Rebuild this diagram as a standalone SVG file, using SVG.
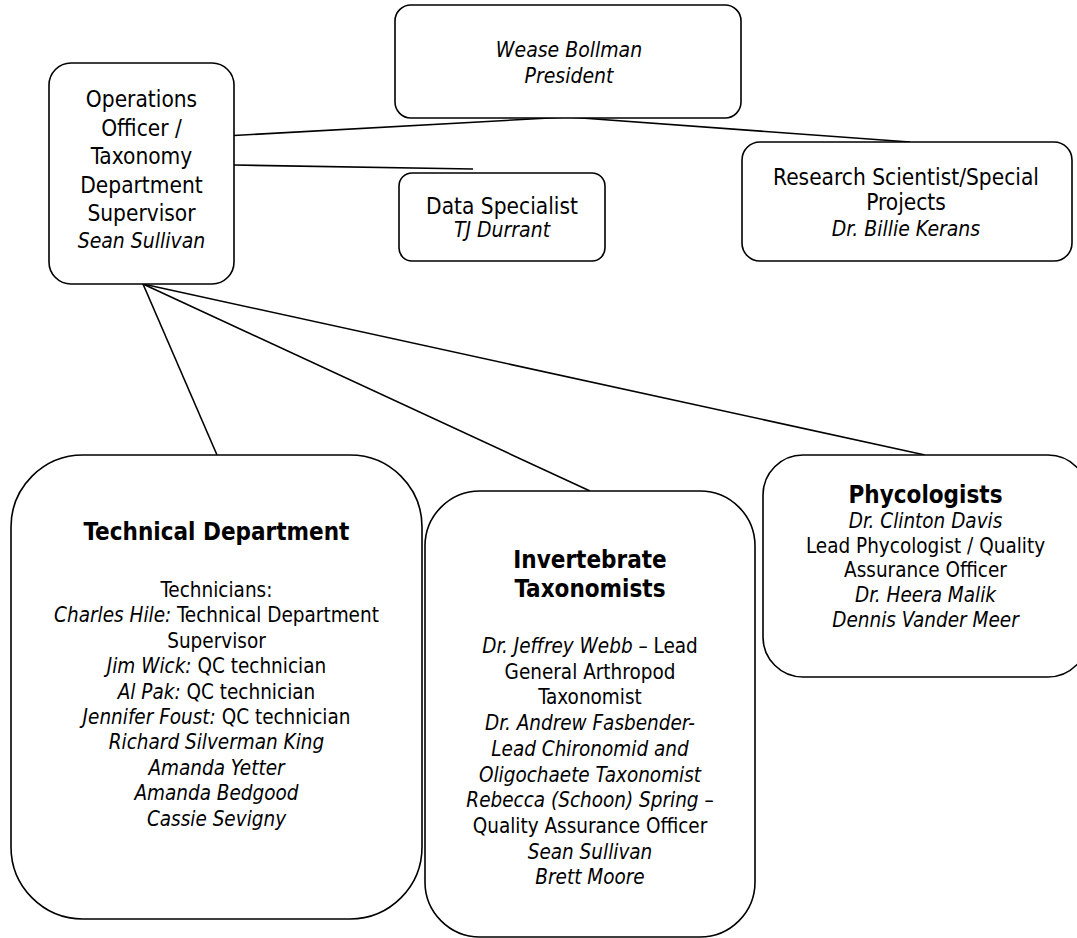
<svg xmlns="http://www.w3.org/2000/svg" width="1077" height="938" viewBox="0 0 1077 938">
<style>
.box{fill:#fff;stroke:#000;stroke-width:1.6}
.c line{stroke:#000;stroke-width:1.6}
text{font-family:"DejaVu Sans Condensed","DejaVu Sans",sans-serif;font-stretch:condensed;text-anchor:middle;fill:#000}
.top{font-size:22.5px}
.ti{font-size:21px;font-style:italic}
.mid{font-size:20.5px}
.i{font-style:italic}
.b{font-weight:bold;font-size:24px}
</style>
<rect width="1077" height="938" fill="#fff"/>
<g class="c" id="connectors">
<line x1="568" y1="117" x2="225" y2="136"/>
<line x1="568" y1="117" x2="910" y2="142"/>
<line x1="234" y1="165" x2="473" y2="169"/>
<line x1="143" y1="284" x2="217" y2="455"/>
<line x1="143" y1="284" x2="590" y2="491"/>
<line x1="143" y1="284" x2="925" y2="455"/>
</g>
<g id="president">
<rect class="box" x="395" y="5" width="346" height="113" rx="16"/>
<text class="ti" x="569" y="57">Wease Bollman</text>
<text class="ti" x="569" y="83">President</text>
</g>
<g id="operations">
<rect class="box" x="49" y="63" width="185" height="221" rx="22"/>
<text class="top" x="141.5" y="107">Operations</text>
<text class="top" x="141.5" y="136">Officer /</text>
<text class="top" x="141.5" y="164">Taxonomy</text>
<text class="top" x="141.5" y="193">Department</text>
<text class="top" x="141.5" y="221">Supervisor</text>
<text class="ti" x="141.5" y="248">Sean Sullivan</text>
</g>
<g id="data-specialist">
<rect class="box" x="399" y="173" width="206" height="88" rx="13"/>
<text class="top" x="502" y="214">Data Specialist</text>
<text class="ti" x="502" y="237">TJ Durrant</text>
</g>
<g id="research">
<rect class="box" x="742" y="142" width="330" height="119" rx="18"/>
<text class="top" x="906" y="185">Research Scientist/Special</text>
<text class="top" x="906" y="210">Projects</text>
<text class="ti" x="906" y="236">Dr. Billie Kerans</text>
</g>
<g id="technical">
<rect class="box" x="11" y="455" width="411" height="464" rx="72"/>
<text class="b" x="216.5" y="540">Technical Department</text>
<text class="mid" x="216.5" y="597">Technicians:</text>
<text class="mid" x="216.5" y="622.4"><tspan class="i">Charles Hile:</tspan> Technical Department</text>
<text class="mid" x="216.5" y="647.8">Supervisor</text>
<text class="mid" x="216.5" y="673.2"><tspan class="i">Jim Wick:</tspan> QC technician</text>
<text class="mid" x="216.5" y="698.6"><tspan class="i">Al Pak:</tspan> QC technician</text>
<text class="mid" x="216.5" y="724"><tspan class="i">Jennifer Foust:</tspan> QC technician</text>
<text class="mid i" x="216.5" y="749.4">Richard Silverman King</text>
<text class="mid i" x="216.5" y="774.8">Amanda Yetter</text>
<text class="mid i" x="216.5" y="800.2">Amanda Bedgood</text>
<text class="mid i" x="216.5" y="825.6">Cassie Sevigny</text>
</g>
<g id="invertebrate">
<rect class="box" x="425" y="491" width="330" height="446" rx="55"/>
<text class="b" x="590" y="568">Invertebrate</text>
<text class="b" x="590" y="597">Taxonomists</text>
<text class="mid" x="590" y="653"><tspan class="i">Dr. Jeffrey Webb</tspan> – Lead</text>
<text class="mid" x="590" y="678.7">General Arthropod</text>
<text class="mid" x="590" y="704.4">Taxonomist</text>
<text class="mid i" x="590" y="730">Dr. Andrew Fasbender-</text>
<text class="mid i" x="590" y="755.8">Lead Chironomid and</text>
<text class="mid i" x="590" y="781.5">Oligochaete Taxonomist</text>
<text class="mid" x="590" y="807"><tspan class="i">Rebecca (Schoon) Spring</tspan> –</text>
<text class="mid" x="590" y="833">Quality Assurance Officer</text>
<text class="mid i" x="590" y="858.5">Sean Sullivan</text>
<text class="mid i" x="590" y="884">Brett Moore</text>
</g>
<g id="phycologists">
<rect class="box" x="763" y="455" width="325" height="222" rx="40"/>
<text class="b" x="925.5" y="503">Phycologists</text>
<text class="mid i" x="925.5" y="528">Dr. Clinton Davis</text>
<text class="mid" x="925.5" y="552.5">Lead Phycologist / Quality</text>
<text class="mid" x="925.5" y="577">Assurance Officer</text>
<text class="mid i" x="925.5" y="602">Dr. Heera Malik</text>
<text class="mid i" x="925.5" y="627">Dennis Vander Meer</text>
</g>
</svg>
